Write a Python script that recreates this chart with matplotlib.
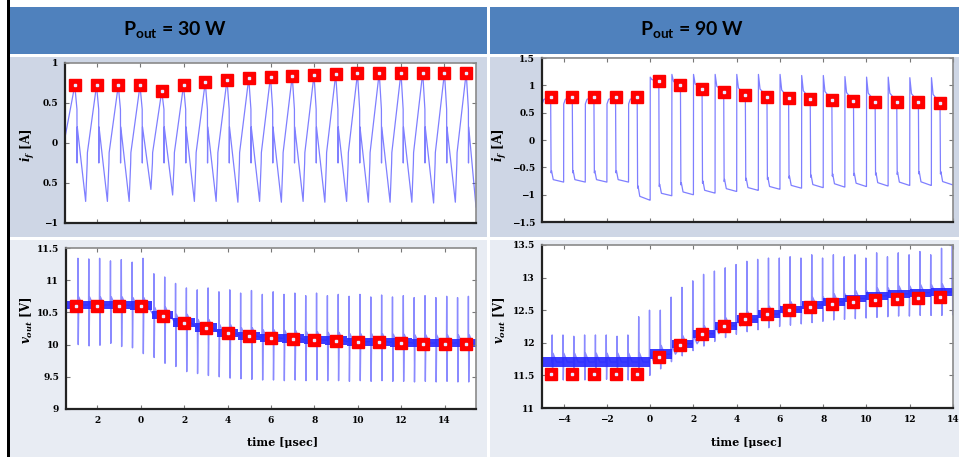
import matplotlib.pyplot as plt
import numpy as np
from matplotlib.patches import Rectangle

W, H = 959, 457

plt.rcParams['mathtext.fontset'] = 'custom'
plt.rcParams['mathtext.rm'] = 'DejaVu Serif:bold'
plt.rcParams['mathtext.it'] = 'DejaVu Serif:italic:bold'
plt.rcParams['mathtext.bf'] = 'Lato:bold'

# ---------------- data ----------------
# Pout = 30 W, inductor current: peaks (red squares) once per usec
a_t = [-3, -2, -1, 0, 1, 2, 3, 4, 5, 6, 7, 8, 9, 10, 11, 12, 13, 14, 15]
a_peak = [0.72, 0.72, 0.72, 0.72, 0.65, 0.72, 0.76, 0.79, 0.81, 0.83,
          0.84, 0.85, 0.86, 0.87, 0.88, 0.88, 0.88, 0.88, 0.88]
a_trough = [-0.73, -0.73, -0.73, -0.58, -0.65, -0.73, -0.73, -0.74, -0.73,
            -0.74, -0.73, -0.74, -0.73, -0.74, -0.74, -0.74, -0.75, -0.74]
a_first = (-3.45, 0.07)
a_last = (15.45, -0.80)

# Pout = 90 W, inductor current: square wave, marker just before each fall
b_t = [-4.6, -3.6, -2.6, -1.6, -0.6, 0.4, 1.4, 2.4, 3.4, 4.4, 5.4, 6.4,
       7.4, 8.4, 9.4, 10.4, 11.4, 12.4, 13.4]
b_mark = [0.79, 0.79, 0.79, 0.79, 0.79, 1.08, 1.00, 0.93, 0.87, 0.82, 0.79,
          0.76, 0.75, 0.73, 0.71, 0.70, 0.70, 0.69, 0.67]
b_high0 = [0.65, 0.66, 0.66, 0.66, 0.66, 1.15, 1.20, 1.20, 1.20, 1.20, 1.20,
           1.20, 1.18, 1.18, 1.16, 1.15, 1.15, 1.14, 1.14]
b_low0 = [-0.60, -0.60, -0.60, -0.60, -0.88, -0.85, -0.82, -0.79, -0.76,
          -0.74, -0.72, -0.70, -0.68, -0.66, -0.65, -0.64, -0.63, -0.62, -0.62]
b_low1 = [-0.77, -0.77, -0.77, -0.77, -1.10, -1.02, -1.00, -0.97, -0.94,
          -0.92, -0.90, -0.88, -0.87, -0.86, -0.85, -0.84, -0.83, -0.83, -0.82]

# Pout = 30 W, output voltage: samples once per usec, ripple band, spikes every 0.5 usec
c_t = a_t
c_mark = [10.60, 10.60, 10.60, 10.60, 10.45, 10.34, 10.26, 10.18, 10.13,
          10.10, 10.09, 10.07, 10.06, 10.04, 10.04, 10.03, 10.01, 10.01, 10.01]
c_band_lo = [10.55, 10.55, 10.55, 10.54, 10.39, 10.28, 10.20, 10.12, 10.07,
             10.04, 10.03, 10.01, 10.00, 9.98, 9.98, 9.97, 9.96, 9.96, 9.96]
c_band_hi = [10.68, 10.68, 10.68, 10.67, 10.52, 10.41, 10.33, 10.25, 10.20,
             10.17, 10.16, 10.14, 10.13, 10.11, 10.11, 10.10, 10.09, 10.09, 10.09]
c_spike_t = [-2.9, -2.4, -1.9, -1.4, -0.9, -0.4, 0.1, 0.6, 1.1, 1.6, 2.1, 2.6,
             3.1, 3.6, 4.1, 4.6, 5.1, 5.6, 6.1, 6.6, 7.1, 7.6, 8.1, 8.6, 9.1,
             9.6, 10.1, 10.6, 11.1, 11.6, 12.1, 12.6, 13.1, 13.6, 14.1, 14.6, 15.1]
c_spike_top = [11.34, 11.33, 11.34, 11.30, 11.32, 11.28, 11.34, 11.10, 11.05,
               10.95, 10.88, 10.85, 10.88, 10.82, 10.85, 10.80, 10.84, 10.78,
               10.82, 10.78, 10.80, 10.76, 10.80, 10.76, 10.78, 10.75, 10.78,
               10.74, 10.77, 10.74, 10.76, 10.73, 10.76, 10.73, 10.75, 10.73, 10.75]
c_spike_bot = [10.00, 9.98, 9.99, 10.02, 9.97, 9.95, 9.86, 9.80, 9.71, 9.66,
               9.58, 9.55, 9.52, 9.50, 9.48, 9.47, 9.46, 9.45, 9.45, 9.44, 9.45,
               9.44, 9.45, 9.44, 9.44, 9.43, 9.44, 9.43, 9.44, 9.43, 9.43, 9.42,
               9.43, 9.42, 9.43, 9.42, 9.42]

# Pout = 90 W, output voltage
d_t = b_t
d_mark = [11.52, 11.52, 11.52, 11.52, 11.52, 11.78, 11.97, 12.13, 12.26,
          12.37, 12.44, 12.50, 12.55, 12.60, 12.63, 12.66, 12.67, 12.69, 12.70]
d_band_lo = [11.63, 11.63, 11.63, 11.63, 11.63, 11.75, 11.92, 12.08, 12.20,
             12.30, 12.38, 12.45, 12.52, 12.57, 12.62, 12.66, 12.69, 12.71, 12.72]
d_band_hi = [11.78, 11.78, 11.78, 11.78, 11.78, 11.90, 12.05, 12.20, 12.32,
             12.42, 12.50, 12.57, 12.64, 12.69, 12.74, 12.78, 12.81, 12.83, 12.84]
d_spike_t = [-4.53, -4.03, -3.53, -3.03, -2.53, -2.03, -1.53, -1.03, -0.53,
             -0.03, 0.47, 0.97, 1.47, 1.97, 2.47, 2.97, 3.47, 3.97, 4.47, 4.97,
             5.47, 5.97, 6.47, 6.97, 7.47, 7.97, 8.47, 8.97, 9.47, 9.97, 10.47,
             10.97, 11.47, 11.97, 12.47, 12.97, 13.47, 13.97]
d_spike_top = [12.12, 12.12, 12.10, 12.12, 12.12, 12.12, 12.10, 12.12, 12.40,
               12.50, 12.50, 12.70, 12.85, 12.95, 13.05, 13.10, 13.15, 13.20,
               13.25, 13.28, 13.30, 13.30, 13.32, 13.30, 13.35, 13.30, 13.35,
               13.32, 13.35, 13.30, 13.38, 13.32, 13.38, 13.35, 13.40, 13.35,
               13.45, 13.50]
d_spike_bot = [11.43, 11.43, 11.44, 11.43, 11.43, 11.44, 11.43, 11.43, 11.45,
               11.50, 11.60, 11.71, 11.80, 11.88, 11.95, 12.02, 12.08, 12.13,
               12.17, 12.20, 12.23, 12.25, 12.27, 12.29, 12.31, 12.33, 12.35,
               12.36, 12.37, 12.38, 12.39, 12.40, 12.41, 12.41, 12.42, 12.42,
               12.42, 12.43]

# ---------------- figure ----------------
fig = plt.figure(figsize=(W / 100, H / 100), dpi=100)


def box(x0, y0, x1, y1, color):
    fig.patches.append(Rectangle((x0 / W, 1 - y1 / H), (x1 - x0) / W, (y1 - y0) / H,
                                 transform=fig.transFigure, color=color, lw=0, zorder=-5))


box(7, 0, 9.5, H, 'black')
box(10, 7, 487, 54, '#4F81BD')
box(490, 7, W, 54, '#4F81BD')
box(10, 57, 487, 237, '#CED6E5')
box(490, 57, W, 237, '#CED6E5')
box(10, 240, 487, H, '#E8ECF3')
box(490, 240, W, H, '#E8ECF3')

fig.text(123 / W, 1 - 30 / H, r'$\mathbf{P_{out}}$ = 30 W', family='Lato', weight='bold',
         fontsize=14, va='center', ha='left')
fig.text(640 / W, 1 - 30 / H, r'$\mathbf{P_{out}}$ = 90 W', family='Lato', weight='bold',
         fontsize=14, va='center', ha='left')


def panel(x0, y0, x1, y1):
    ax = fig.add_axes([x0 / W, 1 - y1 / H, (x1 - x0) / W, (y1 - y0) / H])
    ax.set_facecolor('white')
    for s in ['left', 'bottom']:
        ax.spines[s].set_color('#222222')
        ax.spines[s].set_linewidth(1.6)
    for s in ['top', 'right']:
        ax.spines[s].set_color('#8a8a8a')
        ax.spines[s].set_linewidth(1.2)
    ax.tick_params(direction='in', length=3, width=0.8, color='#777777',
                   top=True, right=True, labelsize=6.5, pad=5)
    return ax


def ticks(ax, xt, xl, yt, yl):
    ax.set_xticks(xt)
    ax.set_xticklabels(xl, family='DejaVu Serif', weight='bold', fontsize=6.5)
    ax.set_yticks(yt)
    ax.set_yticklabels(yl, family='DejaVu Serif', weight='bold', fontsize=6.5)


def markers(ax, t, v):
    ax.plot(t, v, 's', ms=8, mfc='red', mec='red', zorder=5)
    ax.plot(t, v, 's', ms=2, mfc='#e8e8ff', mec='#e8e8ff', zorder=6)


trace = dict(color='#2a2aff', lw=0.9, alpha=0.6)

# ---- 30 W current ----
axA = panel(65, 63, 476, 223)
ta, ya = [a_first[0]], [a_first[1]]
for k, (t0, p) in enumerate(zip(a_t, a_peak)):
    ta.append(t0)
    ya.append(p)
    if k < len(a_trough):
        ta += [t0 + 0.1, t0 + 0.105, t0 + 0.115, t0 + 0.5, t0 + 0.57, t0 + 0.58]
        ya += [0.42, -0.25, 0.2, a_trough[k], -0.25, -0.12]
ta += [a_t[-1] + 0.1, a_t[-1] + 0.105, a_t[-1] + 0.115, a_last[0]]
ya += [0.42, -0.25, 0.2, a_last[1]]
axA.plot(ta, ya, **trace)
markers(axA, a_t, a_peak)
axA.set_xlim(-3.45, 15.45)
axA.set_ylim(-1, 1)
ticks(axA, [-2, 0, 2, 4, 6, 8, 10, 12, 14], [''] * 9,
      [-1, -0.5, 0, 0.5, 1], ['\u22121', '0.5', '0', '0.5', '1'])

# ---- 90 W current ----
axB = panel(542, 58, 953, 222)
tb, yb = [-5.0], [b_high0[0]]
for k, m in enumerate(b_t):
    r = m - 0.4
    if k > 0:
        tb += [r, r + 0.005]
        yb += [b_low1[k - 1], b_high0[k]]
    tb += [r + 0.08, m, m + 0.02, m + 0.04, m + 0.12, m + 0.58]
    yb += [b_mark[k] + 0.35 * (b_high0[k] - b_mark[k]), b_mark[k], b_low0[k],
           b_low0[k] + 0.04, 0.5 * (b_low0[k] + b_low1[k]) - 0.04, b_low1[k]]
axB.plot(tb, yb, **trace)
markers(axB, b_t, b_mark)
axB.set_xlim(-5, 14)
axB.set_ylim(-1.5, 1.5)
ticks(axB, [-4, -2, 0, 2, 4, 6, 8, 10, 12, 14], [''] * 10,
      [-1.5, -1, -0.5, 0, 0.5, 1, 1.5],
      ['\u22121.5', '\u22121', '\u22120.5', '0', '0.5', '1', '1.5'])


def voltage(ax, lo, hi, st, top, bot, edges):
    lo_s = list(lo) + [lo[-1]]
    hi_s = list(hi) + [hi[-1]]
    ax.fill_between(edges, lo_s, hi_s, step='post', color='#1a1aff', alpha=0.85, lw=0)
    tv, yv = [], []
    for s, tp, bt in zip(st, top, bot):
        k = int(np.searchsorted(edges, s, side='right')) - 1
        k = min(max(k, 0), len(lo) - 1)
        c = 0.5 * (lo[k] + hi[k])
        tv += [s - 0.01, s, s + 0.015, s + 0.04, s + 0.2]
        yv += [c, tp, bt, hi[k] + 0.06, c]
    ax.plot(tv, yv, color='#2a2aff', lw=1.0, alpha=0.55)


# ---- 30 W voltage ----
axC = panel(66, 248, 476, 409)
c_edges = [-3.45] + [t + 0.5 for t in c_t]
c_edges[-1] = 15.45
voltage(axC, c_band_lo, c_band_hi, c_spike_t, c_spike_top, c_spike_bot, c_edges)
markers(axC, c_t, c_mark)
axC.set_xlim(-3.45, 15.45)
axC.set_ylim(9, 11.5)
ticks(axC, [-2, 0, 2, 4, 6, 8, 10, 12, 14],
      ['2', '0', '2', '4', '6', '8', '10', '12', '14'],
      [9, 9.5, 10, 10.5, 11, 11.5], ['9', '9.5', '10', '10.5', '11', '11.5'])

# ---- 90 W voltage ----
axD = panel(542, 245, 953, 408)
d_edges = [-5] + [t + 0.6 for t in d_t]
d_edges[-1] = 14
voltage(axD, d_band_lo, d_band_hi, d_spike_t, d_spike_top, d_spike_bot, d_edges)
markers(axD, d_t, d_mark)
axD.set_xlim(-5, 14)
axD.set_ylim(11, 13.5)
ticks(axD, [-4, -2, 0, 2, 4, 6, 8, 10, 12, 14],
      ['\u22124', '\u22122', '0', '2', '4', '6', '8', '10', '12', '14'],
      [11, 11.5, 12, 12.5, 13, 13.5], ['11', '11.5', '12', '12.5', '13', '13.5'])

# axis titles
lab = dict(family='DejaVu Serif', weight='bold', fontsize=8.5, rotation=90,
           ha='center', va='center')
fig.text(28 / W, 1 - 145 / H, r'$i_f$ [A]', **lab)
fig.text(27 / W, 1 - 320 / H, r'$v_{out}$ [V]', **lab)
fig.text(500 / W, 1 - 145 / H, r'$i_f$ [A]', **lab)
fig.text(500 / W, 1 - 320 / H, r'$v_{out}$ [V]', **lab)
fig.text(283 / W, 1 - 443 / H, 'time [\u03bcsec]', family='DejaVu Serif', weight='bold',
         fontsize=8, ha='center', va='center')
fig.text(747 / W, 1 - 442 / H, 'time [\u03bcsec]', family='DejaVu Serif', weight='bold',
         fontsize=8, ha='center', va='center')

fig.savefig('out.png', dpi=100)
